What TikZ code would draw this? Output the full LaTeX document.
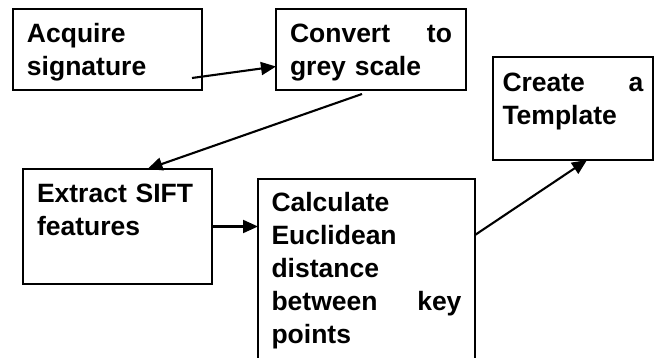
\documentclass[tikz,border=0pt]{standalone}
\usepackage{fontspec}
\setmainfont{Liberation Sans}
\usetikzlibrary{arrows.meta}

\tikzset{
  stepbox/.style={draw, line width=2.2pt, anchor=north west, outer sep=0pt,
    align=left, inner xsep=14pt, inner ysep=0pt, text height=34pt,
    font=\fontsize{26.5}{33}\selectfont\bfseries},
  flow/.style={line width=2.1pt, -{Triangle[length=15pt,width=13pt]}}
}

\begin{document}
\begin{tikzpicture}[x=1pt,y=-1pt]
      \path[use as bounding box, clip] (0,0) rectangle (654,358);
      \node[stepbox, text width=161pt, text depth=47pt] (acq) at (13,9) {Acquire\\signature};
      \node[stepbox, text width=162pt, text depth=47pt] (conv) at (276,9) {Convert\hfill to\\grey scale};
      \node[stepbox, inner xsep=9.5pt, text width=141pt, text height=35pt, text depth=68pt] (tmpl) at (493,57) {Create\hfill a\\Template};
      \node[stepbox, text width=161pt, text depth=81pt] (sift) at (23,169) {Extract SIFT\\features};
      \node[stepbox, inner xsep=13.5pt, text width=190pt, text height=33pt, text depth=190pt] (eucl) at (258,179)
              {Calculate\\Euclidean\\distance\\between\hfill key\\points};
      \coordinate (acqout) at ([shift={(-10pt,12pt)}]acq.south east);
      \path[flow]
              (acqout) edge ([yshift=-17pt]conv.west)
              ([shift={(-9pt,-4pt)}]conv.south) edge ([xshift=30pt]sift.north)
              (sift.east) edge (sift.east -| eucl.west)
              ([yshift=-56pt]eucl.north east) edge ([xshift=14pt]tmpl.south);
\end{tikzpicture}
\end{document}
